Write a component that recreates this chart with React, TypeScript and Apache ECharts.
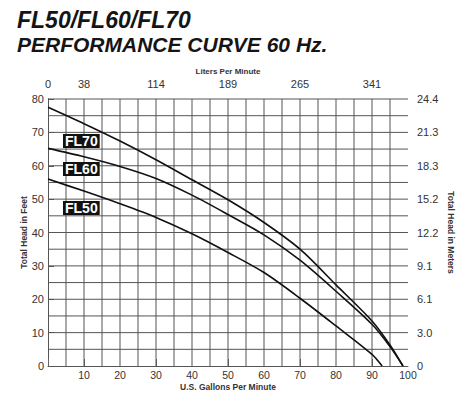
import React, { useEffect, useRef } from "react";
import * as echarts from "echarts";

// Gallons per minute (x) vs total head in feet (y)
const fl70Gpm = [0, 10, 20, 30, 40, 50, 60, 70, 80, 90, 95, 98.6];
const fl70Head = [77.5, 72.6, 67.4, 61.8, 55.8, 49.8, 43, 35, 24.3, 13.5, 6.3, 0];
const fl60Gpm = [0, 10, 20, 30, 40, 50, 60, 70, 80, 90, 95, 98.6];
const fl60Head = [65.2, 62.7, 59.8, 56.2, 51.2, 45.4, 39.3, 31.7, 22.4, 12.5, 5.8, 0];
const fl50Gpm = [0, 10, 20, 30, 40, 50, 60, 70, 80, 90, 92.8];
const fl50Head = [56, 52.4, 48.6, 44.5, 39.6, 34, 28, 20.3, 12, 3.5, 0];

const litersTickGpm = [0, 10, 30, 50, 70, 90];
const litersTickLabels = ["0", "38", "114", "189", "265", "341"];
const metersTickFeet = [0, 10, 20, 30, 40, 50, 60, 70, 80];
const metersTickLabels = ["0", "3.0", "6.1", "9.1", "12.2", "15.2", "18.3", "21.3", "24.4"];
const gridGpm = [5, 10, 15, 20, 25, 30, 35, 40, 45, 50, 55, 60, 65, 70, 75, 80, 85, 90, 95];
const gridFeet = [5, 10, 15, 20, 25, 30, 35, 40, 45, 50, 55, 60, 65, 70, 75, 80];

const seriesNames = ["FL70", "FL60", "FL50"];
const titleLines = ["FL50/FL60/FL70", "PERFORMANCE CURVE 60 Hz."];

const X_MIN = 0;
const X_MAX = 100;
const Y_MIN = 0;
const Y_MAX = 80;

const FONT = "'Liberation Sans', Arial, Helvetica, sans-serif";

export default function App() {
  const ref = useRef<HTMLDivElement>(null);
  useEffect(() => {
    if (!ref.current) return;
    const chart = echarts.init(ref.current, undefined, { renderer: "svg" });
    const zip = (xs: number[], ys: number[]) => xs.map((x, i) => [x, ys[i]]);
    const gridColor = "#555";
    const labelColor = "#333";
    const curves = [
      zip(fl70Gpm, fl70Head),
      zip(fl60Gpm, fl60Head),
      zip(fl50Gpm, fl50Head),
    ];
    const gridLineSeries = (vertical: boolean, values: number[]) => ({
      type: "custom",
      xAxisIndex: 0,
      yAxisIndex: 0,
      silent: true,
      z: 1,
      data: values.map((v) => (vertical ? [v, Y_MIN] : [X_MIN, v])),
      renderItem: (params: any, api: any) => {
        const p1 = vertical
          ? api.coord([api.value(0), Y_MIN])
          : api.coord([X_MIN, api.value(1)]);
        const p2 = vertical
          ? api.coord([api.value(0), Y_MAX])
          : api.coord([X_MAX, api.value(1)]);
        return {
          type: "line",
          shape: { x1: p1[0], y1: p1[1], x2: p2[0], y2: p2[1] },
          style: { stroke: gridColor, lineWidth: 1, fill: null },
        };
      },
    });
    chart.setOption({
      animation: false,
      backgroundColor: "#fff",
      textStyle: { fontFamily: FONT },
      grid: { left: 48, right: 66, top: 99, bottom: 33 },
      xAxis: [
        {
          type: "value",
          position: "bottom",
          min: X_MIN,
          max: X_MAX,
          interval: 5,
          name: "U.S. Gallons Per Minute",
          nameLocation: "middle",
          nameGap: 16,
          nameMoveOverlap: false,
          nameTextStyle: { fontSize: 8.5, color: labelColor, fontWeight: "bold" },
          axisLine: { show: true, lineStyle: { color: gridColor, width: 1 } },
          axisTick: { show: false },
          axisLabel: {
            color: labelColor,
            fontSize: 10.5,
            margin: 3,
            formatter: (v: number) => (v > 0 && v % 10 === 0 ? String(v) : ""),
          },
          splitLine: { show: false },
        },
        {
          type: "value",
          position: "top",
          min: X_MIN,
          max: X_MAX,
          offset: 3,
          name: "Liters Per Minute",
          nameLocation: "middle",
          nameGap: 21,
          nameMoveOverlap: false,
          nameTextStyle: { fontSize: 8, color: labelColor, fontWeight: "bold" },
          axisLine: { show: false },
          axisTick: {
            show: true,
            length: 7,
            lineStyle: { color: "#666", width: 1 },
            customValues: litersTickGpm,
          },
          axisLabel: {
            color: labelColor,
            fontSize: 11,
            margin: 7,
            customValues: litersTickGpm,
            formatter: (v: number) => {
              const i = litersTickGpm.indexOf(v);
              return i >= 0 ? litersTickLabels[i] : "";
            },
          },
          splitLine: { show: false },
        },
      ],
      yAxis: [
        {
          type: "value",
          position: "left",
          min: Y_MIN,
          max: Y_MAX,
          interval: 5,
          name: "Total Head in Feet",
          nameLocation: "middle",
          nameGap: 20,
          nameMoveOverlap: false,
          nameRotate: 90,
          nameTextStyle: { fontSize: 8.5, color: labelColor, fontWeight: "bold" },
          axisLine: { show: true, lineStyle: { color: gridColor, width: 1 } },
          axisTick: { show: false },
          axisLabel: {
            color: labelColor,
            fontSize: 11,
            margin: 4,
            formatter: (v: number) => (v % 10 === 0 ? String(v) : ""),
          },
          splitLine: { show: false },
        },
        {
          type: "value",
          position: "right",
          min: Y_MIN,
          max: Y_MAX,
          interval: 10,
          name: "Total Head in Meters",
          nameLocation: "middle",
          nameGap: 38,
          nameMoveOverlap: false,
          nameRotate: -90,
          nameTextStyle: { fontSize: 8.5, color: labelColor, fontWeight: "bold" },
          axisLine: { show: true, lineStyle: { color: gridColor, width: 1 } },
          axisTick: { show: true, length: 6, lineStyle: { color: gridColor, width: 1 } },
          axisLabel: {
            color: labelColor,
            fontSize: 11,
            margin: 9,
            formatter: (v: number) => {
              const i = metersTickFeet.indexOf(v);
              return i >= 0 ? metersTickLabels[i] : "";
            },
          },
          splitLine: { show: false },
        },
      ],
      series: [
        gridLineSeries(true, gridGpm),
        gridLineSeries(false, gridFeet),
        ...curves.map((d, i) => ({
          name: seriesNames[i],
          type: "line",
          xAxisIndex: 0,
          yAxisIndex: 0,
          data: d,
          smooth: 0.3,
          showSymbol: false,
          lineStyle: { color: "#111", width: 1.6 },
          z: 5,
        })),
      ],
      graphic: [
        {
          type: "text",
          left: 17,
          top: 8,
          style: {
            text: titleLines[0],
            fill: "#151515",
            font: `italic bold 23px ${FONT}`,
          },
        },
        {
          type: "text",
          left: 17,
          top: 34,
          style: {
            text: titleLines[1],
            fill: "#151515",
            font: `italic bold 21px ${FONT}`,
          },
        },
        ...[134, 162, 201].map((top, i) => ({
          type: "text",
          left: 63,
          top,
          z: 10,
          style: {
            text: seriesNames[i],
            fill: "#fff",
            font: `bold 14px ${FONT}`,
            backgroundColor: "#111",
            padding: [0, 2, 0, 2],
            lineHeight: 14,
          },
        })),
      ],
    });
    return () => chart.dispose();
  }, []);
  return <div ref={ref} style={{ width: 474, height: 399, margin: -8 }} />;
}
